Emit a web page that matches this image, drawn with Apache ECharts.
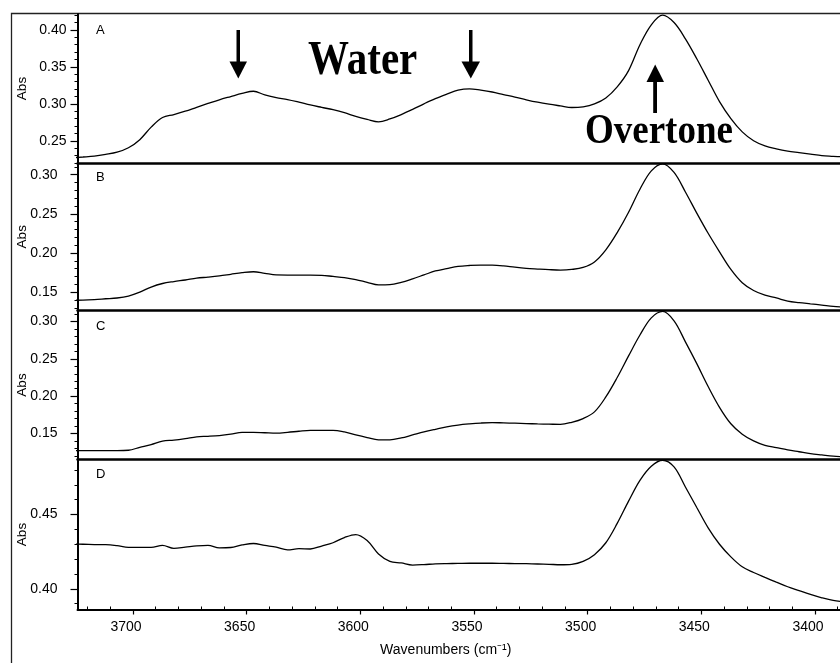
<!DOCTYPE html>
<html><head><meta charset="utf-8">
<script src="https://cdn.jsdelivr.net/npm/echarts@6/dist/echarts.min.js"></script>
<style>html,body{margin:0;padding:0;background:#fff}#c{width:840px;height:663px}</style>
</head><body><div id="c"></div>
<script>
// Shared wavenumber grid (cm^-1)
const wavenumbers = [3727,3722,3717,3712,3707,3702,3697,3692,3687,3682,3677,3672,3667,3662,3657,3652,3647,3642,3637,3632,3627,3622,3617,3612,3607,3602,3597,3592,3587,3582,3577,3572,3567,3562,3557,3552,3547,3542,3537,3532,3527,3522,3517,3512,3507,3502,3497,3492,3487,3482,3477,3472,3467,3462,3457,3452,3447,3442,3437,3432,3427,3422,3417,3412,3407,3402,3397,3392,3387];
const absA = [0.2270,0.2280,0.2292,0.2315,0.2345,0.2405,0.2515,0.2685,0.2815,0.2855,0.2900,0.2953,0.3005,0.3055,0.3098,0.3140,0.3170,0.3120,0.3085,0.3058,0.3023,0.2985,0.2952,0.2920,0.2880,0.2830,0.2790,0.2757,0.2795,0.2855,0.2925,0.3000,0.3070,0.3130,0.3185,0.3203,0.3185,0.3160,0.3125,0.3092,0.3055,0.3022,0.2995,0.2972,0.2950,0.2960,0.3000,0.3080,0.3230,0.3450,0.3800,0.4070,0.4200,0.4100,0.3880,0.3610,0.3320,0.3030,0.2800,0.2620,0.2500,0.2430,0.2390,0.2360,0.2340,0.2320,0.2300,0.2290,0.2280];
const absB = [0.1395,0.1398,0.1405,0.1415,0.1425,0.1450,0.1500,0.1565,0.1610,0.1635,0.1655,0.1678,0.1692,0.1708,0.1728,0.1748,0.1760,0.1740,0.1720,0.1718,0.1718,0.1718,0.1715,0.1700,0.1685,0.1660,0.1625,0.1592,0.1595,0.1625,0.1670,0.1720,0.1770,0.1800,0.1828,0.1840,0.1846,0.1845,0.1835,0.1818,0.1804,0.1795,0.1787,0.1782,0.1790,0.1815,0.1885,0.2040,0.2260,0.2520,0.2815,0.3050,0.3140,0.3030,0.2780,0.2510,0.2252,0.2015,0.1790,0.1620,0.1520,0.1460,0.1425,0.1385,0.1365,0.1350,0.1335,0.1318,0.1310];
const absC = [0.1270,0.1270,0.1270,0.1270,0.1270,0.1275,0.1314,0.1352,0.1398,0.1410,0.1430,0.1455,0.1462,0.1472,0.1490,0.1515,0.1515,0.1510,0.1505,0.1515,0.1530,0.1542,0.1542,0.1542,0.1520,0.1480,0.1445,0.1415,0.1415,0.1440,0.1480,0.1520,0.1555,0.1588,0.1612,0.1628,0.1640,0.1646,0.1642,0.1638,0.1633,0.1628,0.1625,0.1622,0.1650,0.1700,0.1790,0.1990,0.2250,0.2540,0.2820,0.3050,0.3136,0.3010,0.2729,0.2437,0.2130,0.1851,0.1630,0.1490,0.1400,0.1340,0.1310,0.1280,0.1255,0.1230,0.1212,0.1195,0.1188];
const absD = [0.4302,0.4300,0.4298,0.4297,0.4290,0.4279,0.4279,0.4279,0.4292,0.4272,0.4280,0.4289,0.4293,0.4275,0.4278,0.4295,0.4305,0.4292,0.4280,0.4262,0.4270,0.4268,0.4288,0.4310,0.4345,0.4365,0.4325,0.4235,0.4185,0.4174,0.4160,0.4163,0.4168,0.4170,0.4171,0.4172,0.4172,0.4172,0.4171,0.4170,0.4169,0.4167,0.4165,0.4162,0.4165,0.4185,0.4230,0.4310,0.4440,0.4590,0.4730,0.4825,0.4865,0.4820,0.4685,0.4547,0.4410,0.4300,0.4215,0.4148,0.4110,0.4077,0.4045,0.4014,0.3988,0.3962,0.3940,0.3922,0.3912];

const xTickValues = [3700,3650,3600,3550,3500,3450,3400];
const xMinorValues = [3720,3710,3690,3680,3670,3660,3640,3630,3620,3610,3590,3580,3570,3560,3540,3530,3520,3510,3490,3480,3470,3460,3440,3430,3420,3410,3390];
const panelLetters = ['A','B','C','D'];
const yTicksA = [0.25,0.30,0.35,0.40];
const yTicksB = [0.15,0.20,0.25,0.30];
const yTicksC = [0.15,0.20,0.25,0.30];
const yTicksD = [0.40,0.45];
const yRanges = [[0.2199,0.4216],[0.1265,0.3150],[0.1151,0.3149],[0.3861,0.4870]];
const yAxisTitle = 'Abs';
const xAxisTitle = 'Wavenumbers (cm⁻¹)';

const series = [absA, absB, absC, absD];
const yTicks = [yTicksA, yTicksB, yTicksC, yTicksD];
const X_MIN = 3389, X_MAX = 3724.4;
const FONT = '"Liberation Sans", Arial, sans-serif';
const SERIF = '"Liberation Serif", "Times New Roman", serif';

const gridBoxes = [{top:14,height:149},{top:163,height:147.5},{top:310.5,height:149},{top:459.5,height:150}];

function minorVals(r){ const out=[]; for(let k=Math.ceil(r[0]*100);k<=Math.floor(r[1]*100);k++) out.push(k/100); return out; }

const grid = gridBoxes.map(g => ({left:77.5, right:0, top:g.top, height:g.height}));
const xAxis = gridBoxes.map((g,i) => ({
  type:'value', gridIndex:i, inverse:true, min:X_MIN, max:X_MAX,
  axisLine:{show:true, onZero:false, lineStyle:{color:'#000', width: i===3?2:2.5}},
  axisTick:{show:i===3, customValues:xTickValues, length:5, lineStyle:{color:'#000',width:1.2}},
  axisLabel:{show:i===3, customValues:xTickValues, formatter:v=>String(v), color:'#000', fontSize:14, fontFamily:FONT, margin:11, padding:[0,14,0,0]},
  splitLine:{show:false},
  name: i===3 ? xAxisTitle : '', nameLocation:'middle', nameGap:34,
  nameTextStyle:{color:'#000', fontSize:14, fontFamily:FONT, padding:[0,26,0,0]}
}));
xAxis.push({type:'value', gridIndex:3, inverse:true, min:X_MIN, max:X_MAX, position:'bottom',
  axisLine:{show:false}, axisLabel:{show:false}, splitLine:{show:false},
  axisTick:{show:true, inside:true, customValues:xMinorValues, length:3, lineStyle:{color:'#000',width:1}}});

const yAxis = gridBoxes.map((g,i) => ({
  type:'value', gridIndex:i, position:'left', min:yRanges[i][0], max:yRanges[i][1],
  axisLine:{show:true, onZero:false, lineStyle:{color:'#000', width:2}},
  axisTick:{show:true, customValues:yTicks[i], length:7, lineStyle:{color:'#000',width:1.2}},
  axisLabel:{show:true, customValues:yTicks[i], formatter:v=>v.toFixed(2), color:'#000', fontSize:14, fontFamily:FONT, margin: i===0?11:20},
  splitLine:{show:false},
  name:yAxisTitle, nameLocation:'middle', nameGap:48, nameMoveOverlap:false,
  nameTextStyle:{color:'#000', fontSize:13.5, fontFamily:FONT}
}));
gridBoxes.forEach((g,i) => yAxis.push({type:'value', gridIndex:i, position:'left', min:yRanges[i][0], max:yRanges[i][1],
  axisLine:{show:false}, axisLabel:{show:false}, splitLine:{show:false},
  axisTick:{show:true, customValues:minorVals(yRanges[i]), length:3, lineStyle:{color:'#000',width:1}}}));

const seriesOpts = series.map((arr,i) => ({
  type:'line', xAxisIndex:i, yAxisIndex:i, showSymbol:false, smooth:0.35, clip:true,
  lineStyle:{color:'#000', width:1.3}, silent:true,
  data: wavenumbers.map((w,k) => [w, arr[k]])
}));

const letterY = [30, 177, 326, 474];
const graphic = [
  {type:'polyline', shape:{points:[[842,13.5],[11.5,13.5],[11.5,665]]}, style:{stroke:'#222', lineWidth:1.3, fill:null}},
  ...panelLetters.map((t,i) => ({type:'text', x:96, y:letterY[i], style:{text:t, fill:'#000', font:'13px '+FONT, align:'left', verticalAlign:'middle'}})),
  // down arrows
  {type:'rect', shape:{x:236.5, y:30, width:3.5, height:33}, style:{fill:'#000'}},
  {type:'polygon', shape:{points:[[229.5,61.5],[247,61.5],[238.3,78.5]]}, style:{fill:'#000'}},
  {type:'rect', shape:{x:469, y:30, width:3.5, height:33}, style:{fill:'#000'}},
  {type:'polygon', shape:{points:[[461.5,61.5],[480,61.5],[470.8,78.5]]}, style:{fill:'#000'}},
  // up arrow
  {type:'rect', shape:{x:653.2, y:80, width:3.8, height:33}, style:{fill:'#000'}},
  {type:'polygon', shape:{points:[[646.5,82],[664,82],[655.2,64.5]]}, style:{fill:'#000'}},
  {type:'text', x:308, y:61.5, scaleY:1.17, style:{text:'Water', fill:'#000', font:'bold 41px '+SERIF, align:'left', verticalAlign:'middle'}},
  {type:'text', x:585, y:132.5, scaleY:1.15, style:{text:'Overtone', fill:'#000', font:'bold 37px '+SERIF, align:'left', verticalAlign:'middle'}}
];

const chart = echarts.init(document.getElementById('c'), null, {renderer:'canvas'});
chart.setOption({animation:false, backgroundColor:'#fff', grid, xAxis, yAxis, series:seriesOpts, graphic});
</script></body></html>
